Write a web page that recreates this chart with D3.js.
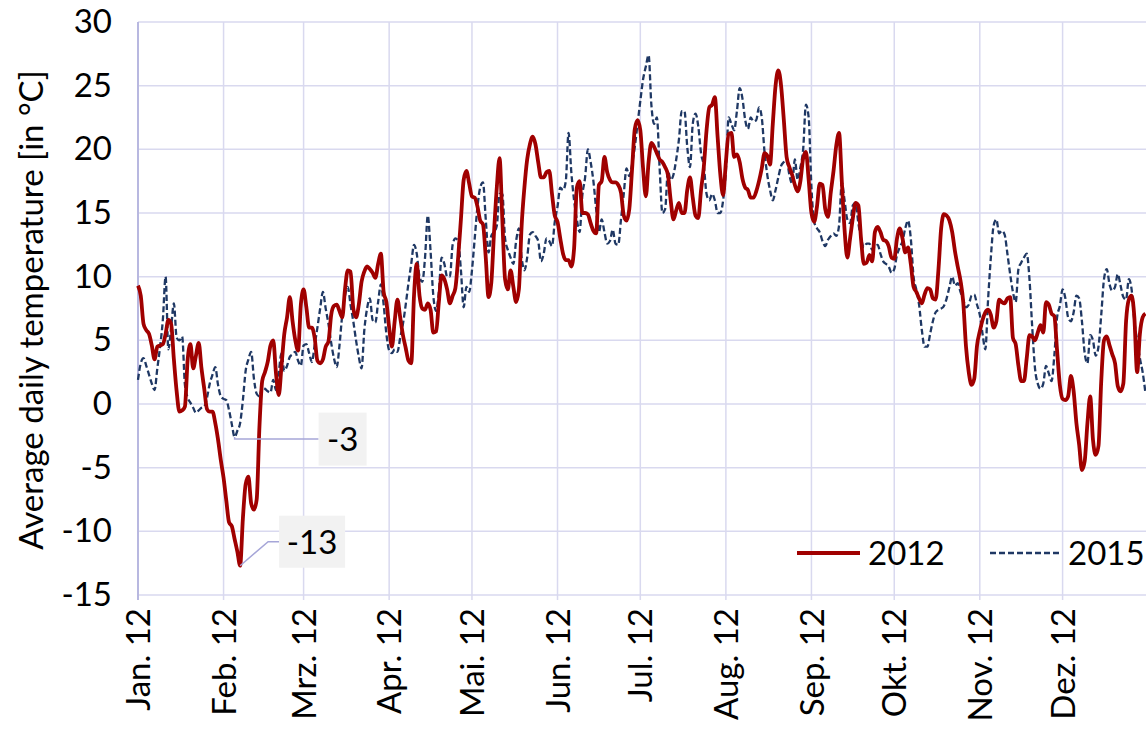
<!DOCTYPE html>
<html>
<head>
<meta charset="utf-8">
<script src="https://cdn.jsdelivr.net/npm/d3@7"></script>
<style>
  body { margin: 0; background: #fff; }
  text { font-family: Lato, "Open Sans", sans-serif; fill: #000; }
</style>
</head>
<body>
<script>
// Tageswerte 2012 (Tag 0 = 1. Jan.)
var t2012 = [
  // Jan
  9.3, 8.5, 6.3, 5.8, 5.5, 4.6, 3.5, 4.5, 4.6, 4.7, 5.5, 6.6, 6.3, 3.5, 1.0, -0.6, -0.5, -0.2, 3.5, 4.7, 2.8, 3.8, 4.8, 2.8, 1.2, -0.4, -0.6, -0.6, -1.5, -2.8, -4.4,
  // Feb
  -5.8, -7.6, -9.3, -9.6, -10.6, -11.6, -12.7, -9.0, -6.3, -5.7, -7.8, -8.3, -7.5, -1.8, 1.8, 2.5, 3.3, 4.6, 5.0, 2.4, 0.7, 3.0, 5.5, 6.8, 8.4, 6.5, 5.0, 4.2, 7.8,
  // Mrz
  9.0, 7.6, 6.0, 6.0, 5.2, 3.4, 3.2, 3.5, 4.5, 4.9, 7.0, 7.7, 7.8, 7.3, 6.8, 9.0, 10.5, 10.4, 7.5, 6.8, 7.8, 9.6, 10.4, 10.8, 10.6, 10.3, 9.9, 11.0, 11.8, 8.8, 8.0,
  // Apr
  6.0, 4.5, 6.5, 8.2, 6.8, 5.4, 4.4, 3.4, 3.2, 8.5, 11.0, 8.5, 7.5, 7.4, 7.9, 7.4, 5.6, 5.7, 8.0, 10.1, 9.8, 9.0, 7.9, 8.5, 9.1, 11.5, 14.5, 17.6, 18.3, 17.3,
  // Mai
  16.3, 16.2, 15.5, 14.4, 14.1, 11.5, 8.4, 9.5, 13.5, 17.0, 19.3, 14.5, 9.8, 9.0, 10.5, 9.2, 8.0, 9.0, 14.0, 17.0, 19.2, 20.4, 21.0, 20.4, 19.0, 17.8, 17.8, 18.2, 18.3, 16.5, 14.8,
  // Jun
  14.3, 13.0, 11.8, 11.3, 11.3, 10.8, 12.2, 17.0, 17.5, 15.0, 15.0, 14.9, 14.2, 13.6, 13.4, 17.2, 17.5, 19.4, 18.2, 17.6, 17.4, 17.4, 17.2, 16.6, 14.8, 14.4, 15.3, 18.4, 21.6, 22.3,
  // Jul
  21.5, 18.5, 16.3, 19.0, 20.5, 20.2, 19.7, 19.2, 19.0, 18.6, 18.0, 16.0, 14.5, 15.2, 15.8, 15.0, 15.0, 16.8, 17.8, 16.2, 14.8, 14.6, 16.8, 18.6, 21.5, 23.3, 23.5, 24.1, 21.0, 18.0, 16.4,
  // Aug
  19.0, 21.2, 21.3, 19.4, 19.6, 19.0, 17.7, 17.0, 16.8, 16.2, 16.2, 16.7, 17.5, 18.5, 19.7, 19.5, 18.8, 22.0, 25.0, 26.2, 25.0, 22.3, 19.4, 18.6, 18.0, 17.2, 16.7, 17.5, 19.3, 19.8, 17.6,
  // Sep
  15.0, 14.3, 15.5, 17.3, 17.2, 15.3, 14.7, 16.6, 18.3, 20.3, 21.3, 17.5, 13.7, 11.5, 13.0, 14.6, 15.8, 15.6, 12.9, 11.0, 11.1, 11.7, 11.2, 13.5, 13.9, 13.5, 12.9, 12.8, 12.4, 11.5,
  // Okt
  11.4, 13.0, 13.8, 13.0, 11.9, 12.3, 11.0, 9.2, 8.8, 8.3, 7.9, 8.6, 9.1, 9.0, 8.3, 8.2, 10.5, 13.8, 14.9, 14.8, 14.4, 13.5, 12.0, 10.8, 9.7, 8.0, 4.5, 2.5, 1.5, 2.0, 4.6,
  // Nov
  5.7, 6.6, 7.2, 7.4, 7.0, 6.0, 6.5, 8.2, 8.0, 7.9, 8.3, 8.4, 5.2, 4.7, 3.0, 1.8, 1.8, 3.6, 5.4, 5.3, 5.0, 5.6, 6.2, 5.6, 8.0, 7.8, 7.1, 6.9, 4.2, 1.5,
  // Dez
  0.4, 0.3, 0.6, 2.2, 1.0, -1.5, -3.2, -5.2, -4.5, -1.5, 0.6, -2.8, -4.0, -3.3, 1.8, 5.0, 5.3, 4.6, 3.9, 3.2, 1.4, 1.0, 1.6, 6.5, 8.2, 8.5, 6.8, 2.5, 5.5, 6.8, 7.1
];

// Tageswerte 2015
var t2015 = [
  // Jan
  1.9, 3.2, 3.6, 3.0, 2.3, 1.6, 1.1, 2.8, 4.5, 6.6, 10.0, 4.3, 6.0, 7.9, 5.2, 5.0, 5.3, 1.5, 0.5, 0.1, -0.3, -0.7, -0.5, -0.3, -0.2, 0.5, 1.6, 2.3, 2.9, 1.5, 0.6,
  // Feb
  0.4, 0.3, -0.5, -1.6, -2.6, -2.1, -1.5, 0.3, 2.6, 3.5, 4.1, 2.0, 0.8, 0.6, 1.3, 1.2, 1.0, 0.9, 1.9, 1.1, 2.5, 4.0, 2.6, 3.0, 3.7, 3.9, 4.1, 3.4, 3.0,
  // Mrz
  4.6, 4.7, 4.0, 3.3, 4.6, 6.0, 7.5, 8.8, 7.5, 6.3, 4.8, 3.6, 2.9, 4.6, 7.0, 8.5, 9.2, 7.8, 6.5, 5.0, 3.7, 2.8, 5.8, 7.5, 8.3, 6.6, 6.4, 8.0, 9.4, 7.8, 5.5,
  // Apr
  4.2, 4.0, 4.3, 4.1, 5.2, 6.3, 7.8, 9.5, 11.0, 12.5, 11.8, 10.0, 9.6, 11.5, 14.8, 12.0, 8.5, 7.3, 8.8, 11.5, 11.0, 10.0, 10.0, 12.5, 13.0, 12.8, 10.5, 7.6, 9.2, 8.8,
  // Mai
  10.5, 13.0, 15.5, 17.0, 17.4, 14.5, 11.9, 13.2, 13.5, 14.0, 16.5, 16.5, 13.0, 12.1, 11.5, 11.0, 12.8, 13.8, 11.5, 10.5, 11.5, 13.3, 13.5, 13.2, 12.8, 11.2, 11.8, 13.0, 12.8, 12.4, 14.3,
  // Jun
  15.5, 17.0, 16.8, 17.5, 21.3, 18.2, 16.0, 14.5, 13.5, 16.4, 17.8, 20.0, 19.0, 17.5, 15.3, 13.5, 14.5, 13.5, 12.6, 12.8, 13.7, 12.6, 12.5, 14.5, 16.5, 18.5, 17.9, 18.8, 20.2, 22.0,
  // Jul
  23.8, 25.5, 26.5, 27.4, 23.5, 22.0, 22.5, 18.5, 15.0, 15.3, 18.3, 17.6, 18.0, 19.2, 20.8, 23.0, 23.0, 20.2, 18.6, 22.0, 22.8, 21.8, 19.7, 18.7, 16.5, 16.0, 16.5, 16.0, 15.0, 15.0, 16.0,
  // Aug
  18.3, 22.5, 22.0, 21.5, 23.0, 24.8, 24.0, 22.3, 21.6, 22.5, 22.2, 22.3, 23.3, 22.5, 19.8, 18.0, 16.8, 16.0, 16.8, 17.8, 18.7, 19.0, 19.2, 18.0, 17.3, 19.2, 17.6, 18.6, 20.0, 23.5, 22.5,
  // Sep
  17.0, 14.3, 13.8, 13.5, 12.8, 12.4, 12.9, 13.2, 13.4, 13.2, 14.0, 17.4, 16.0, 14.5, 14.2, 15.6, 15.8, 14.2, 13.0, 12.3, 12.6, 12.6, 12.1, 12.4, 12.5, 11.8, 11.2, 11.0, 10.8, 10.3,
  // Okt
  10.6, 11.7, 12.3, 12.8, 13.8, 14.4, 13.0, 10.0, 9.0, 7.8, 5.8, 4.5, 4.5, 5.5, 6.5, 7.2, 7.4, 7.5, 7.7, 8.3, 9.2, 10.0, 9.3, 9.5, 8.8, 8.2, 7.6, 7.8, 8.5, 8.6, 7.8,
  // Nov
  7.0, 5.5, 4.3, 8.2, 11.5, 14.0, 14.5, 13.4, 13.6, 13.3, 11.8, 10.2, 8.8, 8.0, 10.6, 11.1, 11.5, 11.8, 9.8, 6.0, 2.8, 1.6, 1.2, 1.6, 3.0, 2.4, 1.8, 3.8, 6.8, 7.7,
  // Dez
  9.0, 8.3, 6.8, 6.5, 7.2, 8.5, 8.3, 6.5, 4.0, 3.2, 5.4, 5.0, 3.8, 4.5, 7.0, 9.8, 10.6, 9.4, 8.9, 9.2, 10.2, 9.3, 8.4, 8.2, 9.8, 9.0, 6.5, 5.0, 3.6, 2.5, 0.9
];

var monthLabels = ["Jan. 12", "Feb. 12", "Mrz. 12", "Apr. 12", "Mai. 12", "Jun. 12",
                   "Jul. 12", "Aug. 12", "Sep. 12", "Okt. 12", "Nov. 12", "Dez. 12"];
var yTicks = [-15, -10, -5, 0, 5, 10, 15, 20, 25, 30];
var seriesNames = ["2012", "2015"];

var W = 1146, H = 733;
var FS = "33px";
var start = new Date(2012, 0, 1);
var dayDate = function(i){ return d3.timeDay.offset(start, i); };

var svg = d3.select("body").append("svg").attr("width", W).attr("height", H);

var x = d3.scaleTime()
  .domain([start, dayDate(365)])
  .range([138, 1145.4]);
var y = d3.scaleLinear().domain([-15, 30]).range([595, 22]);

var gridColor = "#d9d9ef";

// horizontale Gitterlinien
svg.append("g").selectAll("line")
  .data(yTicks)
  .enter().append("line")
  .attr("x1", 138).attr("x2", W)
  .attr("y1", function(d){ return y(d); })
  .attr("y2", function(d){ return y(d); })
  .attr("stroke", gridColor).attr("stroke-width", 1.5);

// vertikale Gitterlinien an Monatsanfängen
var months = d3.range(12).map(function(m){ return new Date(2012, m, 1); });
svg.append("g").selectAll("line")
  .data(months.slice(1))
  .enter().append("line")
  .attr("x1", function(d){ return x(d); })
  .attr("x2", function(d){ return x(d); })
  .attr("y1", 22).attr("y2", 600)
  .attr("stroke", gridColor).attr("stroke-width", 1.5);

// y-Achsenlinie
svg.append("line")
  .attr("x1", 138).attr("x2", 138).attr("y1", 22).attr("y2", 600)
  .attr("stroke", "#b8b8e0").attr("stroke-width", 2);

// y-Beschriftung (normaler Bindestrich statt Minuszeichen)
var yAxis = svg.append("g")
  .attr("transform", "translate(112,0)")
  .call(d3.axisLeft(y).tickValues(yTicks).tickSize(0).tickPadding(0)
    .tickFormat(function(d){ return String(d); }));
yAxis.select(".domain").remove();
yAxis.selectAll("text")
  .style("font-family", "Lato, 'Open Sans', sans-serif")
  .style("font-size", FS).attr("fill", "#000");

// x-Beschriftung (gedreht)
var xAxis = svg.append("g")
  .attr("transform", "translate(0,600)")
  .call(d3.axisBottom(x).tickValues(months).tickSize(0)
    .tickFormat(function(d, i){ return monthLabels[i]; }));
xAxis.select(".domain").remove();
xAxis.selectAll("text")
  .style("font-family", "Lato, 'Open Sans', sans-serif")
  .style("font-size", FS).attr("fill", "#000")
  .attr("text-anchor", "end")
  .attr("transform", "rotate(-90)")
  .attr("x", -8).attr("y", 0).attr("dy", "0.35em");

// Achsentitel
svg.append("text")
  .attr("transform", "translate(31,310) rotate(-90)")
  .attr("text-anchor", "middle")
  .attr("dy", "0.35em")
  .style("font-size", FS)
  .text("Average daily temperature [in °C]");

var line = d3.line()
  .x(function(d, i){ return x(dayDate(i)); })
  .y(function(d){ return y(d); })
  .curve(d3.curveMonotoneX);

svg.append("path")
  .datum(t2015)
  .attr("d", line)
  .attr("fill", "none")
  .attr("stroke", "#1f3864")
  .attr("stroke-width", 2.3)
  .attr("stroke-dasharray", "6,3");

svg.append("path")
  .datum(t2012)
  .attr("d", line)
  .attr("fill", "none")
  .attr("stroke", "#a00000")
  .attr("stroke-width", 3.8)
  .attr("stroke-linejoin", "round");

// Minima beschriften
function label(series, dx, dy, bendX, w, h){
  var i = d3.minIndex(series);
  var px = x(dayDate(i)), py = y(series[i]);
  var bx = px + dx, by = py + dy;
  svg.append("polyline")
    .attr("points", px + "," + py + " " + (px + bendX) + "," + by + " " + bx + "," + by)
    .attr("fill", "none").attr("stroke", "#a6a6d8").attr("stroke-width", 1.5);
  svg.append("rect")
    .attr("x", bx).attr("y", by - h / 2)
    .attr("width", w).attr("height", h)
    .attr("fill", "#f2f2f2");
  svg.append("text")
    .attr("x", bx + w / 2).attr("y", by)
    .attr("dy", "0.36em")
    .attr("text-anchor", "middle")
    .style("font-size", FS)
    .text(String(Math.round(series[i])));
}
label(t2015, 84, 2, 0, 48, 53);
label(t2012, 39, -24, 28, 66, 52);

// Legende
var legend = svg.append("g");
legend.append("line")
  .attr("x1", 797).attr("x2", 860).attr("y1", 553).attr("y2", 553)
  .attr("stroke", "#a00000").attr("stroke-width", 3.8);
legend.append("text").attr("x", 868).attr("y", 553).attr("dy", "0.36em")
  .style("font-size", FS).text(seriesNames[0]);
legend.append("line")
  .attr("x1", 990).attr("x2", 1060).attr("y1", 553).attr("y2", 553)
  .attr("stroke", "#1f3864").attr("stroke-width", 2.3)
  .attr("stroke-dasharray", "6,3");
legend.append("text").attr("x", 1068).attr("y", 553).attr("dy", "0.36em")
  .style("font-size", FS).text(seriesNames[1]);
</script>
</body>
</html>
